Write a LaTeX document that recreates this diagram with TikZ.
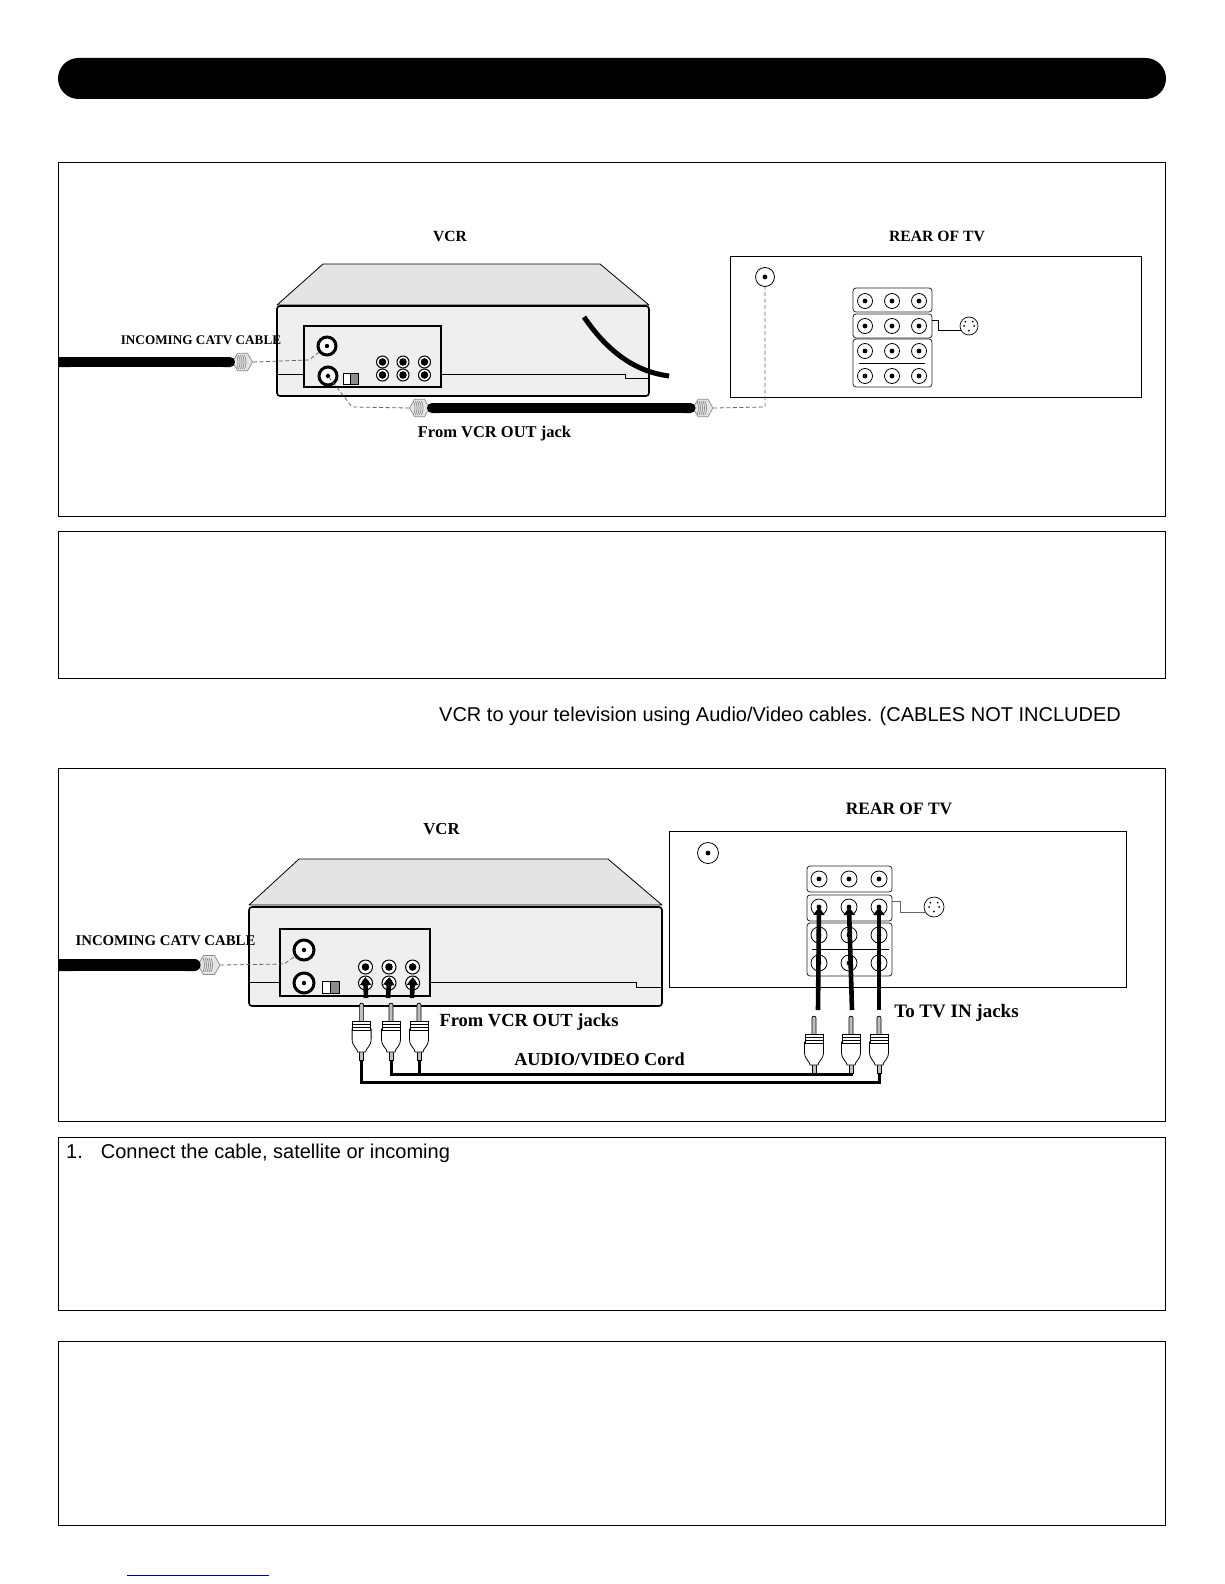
\documentclass[tikz,border=0pt]{standalone}
\usepackage{xcolor}
\usepackage{fontspec}
\setmainfont{Liberation Serif}
\newfontfamily\bodyfont{Liberation Sans}
\usetikzlibrary{arrows.meta,shapes.geometric}
\definecolor{vcrtop}{HTML}{E4E4E4}
\definecolor{vcrbody}{HTML}{EFEFEF}
\definecolor{nutline}{HTML}{8A8A8A}
\definecolor{dashgray}{HTML}{666666}
\definecolor{linkblue}{HTML}{000080}

\begin{document}
\begin{tikzpicture}[
  x=1pt, y=-1pt,
  framebox/.style={draw=black, line width=1, anchor=north west, inner sep=0, outer sep=0},
  lab/.style={font=\fontsize{#1}{18}\selectfont\bfseries, inner sep=0},
  bodytext/.style={font=\bodyfont\fontsize{20}{22}\selectfont, inner sep=0, anchor=west},
  shell/.style={draw=black, line width=0.8, fill=vcrtop, line join=round},
  casing/.style={draw=black, line width=1.6, fill=vcrbody, rounded corners=3},
  panel/.style={draw=black, line width=1.6, fill=vcrbody},
  seam/.style={draw=black, line width=0.7},
  coaxjack/.style={circle, draw=black, line width=3, fill=white, minimum size=#1, inner sep=0,
    path picture={\fill[black] (path picture bounding box.center) circle (2.2);}},
  rcajack/.style={circle, draw=black, line width=1, fill=white, minimum size=#1, inner sep=0,
    path picture={\fill[black] (path picture bounding box.center) circle (3.8);}},
  tvjack/.style={circle, draw=black, line width=0.8, fill=white, minimum size=#1, inner sep=0,
    path picture={\fill[black] (path picture bounding box.center) circle (2.4);}},
  socketgroup/.style={draw=black!85, line width=0.8, rounded corners=3, fill=white, inner sep=0},
  svideo/.style={circle, draw=black, line width=0.7, fill=white, minimum size=#1, inner sep=0,
    path picture={\foreach \px/\py in {-3.7/-4.3,3.7/-4.3,-5/0,5/0,0/4.7}
      \fill[black] ([shift={(\px,\py)}]path picture bounding box.center) circle (1);}},
  nut/.style={regular polygon, regular polygon sides=6, draw=nutline, line width=0.7, fill=black!10,
    minimum size=20, inner sep=0, path picture={
      \foreach \nx in {-6,-4,-2,0,2} \draw[nutline] ([xshift=\nx]path picture bounding box.center) ++(0,-7) .. controls ++(2,4) and ++(2,-4) .. ++(0,14);}},
  cable/.style={line width=#1, draw=black, {Butt Cap}-{Round Cap}, shorten >=-3},
  fullcable/.style={line width=#1, draw=black, {Round Cap}-{Round Cap}, shorten <=-3, shorten >=-3},
  dashlink/.style={draw=dashgray, line width=0.8, dash pattern=on 4pt off 2.5pt},
  thinlink/.style={draw=black, line width=0.7},
  wire/.style={draw=black, line width=3},
  bigarrow/.style={draw=black, line width=4.6, -{Triangle[length=8,width=11]}},
  plug/.pic={
    \draw[line width=0.7, fill=black!25] (-2,19) -- (-2,2) .. controls (-2,-0.5) and (2,-0.5) .. (2,2) -- (2,19) -- cycle;
    \draw[line width=0.7, fill=black!25] (-2,48) rectangle (2,57);
    \draw[line width=0.8, fill=white] (-9.5,26) -- (-9.5,36) .. controls (-9.5,44) and (-4,45) .. (-4,49) -- (4,49) .. controls (4,45) and (9.5,44) .. (9.5,36) -- (9.5,26) -- cycle;
    \draw[line width=0.8, fill=white] (-9,18) rectangle (9,27);
    \fill (-9,20.5) rectangle (9,21.7);
    \fill (-9,23.5) rectangle (9,24.7);
    \coordinate (-tail) at (0,57);
  }
]
\useasboundingbox (0,0) rectangle (1224,1584);

\node[fill=black, rounded corners=20.5, minimum width=1108, minimum height=41, inner sep=0] (titlebar) at (612,78.5) {};
\node[framebox, minimum width=1107, minimum height=354] (frameone) at (58,162) {};
\node[framebox, minimum width=1107, minimum height=147] (frametwo) at (58,531) {};
\node[framebox, minimum width=1107, minimum height=353] (framethree) at (58,768.5) {};
\node[framebox, minimum width=1107, minimum height=173] (framefour) at (58,1137) {};
\node[framebox, minimum width=1107, minimum height=184] (framefive) at (58,1341) {};

\node[bodytext] (waytext) at (439,716) {VCR to your television using Audio/Video cables. (CABLES NOT INCLUDED};
\node[bodytext] (steptext) at (66,1153) {1.\hspace{0.9em}Connect the cable, satellite or incoming};

\draw[shell] (277,305) -- (323,264) -- (600,264) -- (649,305) -- cycle;
\draw[casing] (277,306) rectangle (649,396);
\draw[seam] (277,374) -- (304,374);
\draw[seam] (441,374) -- (625,374) -- (625,378) -- (649,378);
\draw[panel] (304,326) rectangle (441,387);
\node[coaxjack=18] (coaxina) at (327,346) {};
\node[coaxjack=18] (coaxouta) at (328,376) {};
\draw[line width=0.7, fill=white] (343,373) rectangle (350,384);
\draw[line width=0.7, fill=black!45] (350,373) rectangle (358,384);
\foreach \n/\cx in {a/382.5,b/403,c/424.5}
  \foreach \m/\cy in {1/362,2/375}
    \node[rcajack=12] (vja\n\m) at (\cx,\cy) {};

\coordinate (cordtop) at (584,317);
\coordinate (cordend) at (669,376);
\draw[line width=5] (cordtop) .. controls (610,355) and (638,372) .. (cordend);

\node[nut] (nuta) at (242.5,362) {};
\node[nut] (nutb) at (419.5,408) {};
\node[nut] (nutc) at (703,408) {};
\coordinate (cabstarta) at (58,362);
\draw[cable=10] (cabstarta) -- (nuta.west);
\draw[fullcable=10] (nutb.east) -- (nutc.west);
\draw[dashlink] (nuta.east) -- (309,360) -- (coaxina);
\draw[dashlink] (nutb.west) -- (352,407) -- (coaxouta.center);

\node[lab=15.5] (vcrone) at (450,236) {VCR};
\node[lab=15.7] (rearone) at (937,236) {REAR OF TV};
\node[lab=13.2] (incomingone) at (201,340) {INCOMING CATV CABLE};
\node[lab=16.5] (fromone) at (494.5,434) {From VCR OUT jack};

\draw[framebox, fill=white] (730,256) rectangle (1141,397);
\node[tvjack=19] (antone) at (765,277) {};
\draw[dashlink] (nutc.east) -- (765,407) -- (antone);
\node[socketgroup, minimum width=79, minimum height=24] (grpa) at (892.5,300) {};
\node[socketgroup, minimum width=79, minimum height=24] (grpb) at (892.5,326) {};
\node[socketgroup, minimum width=79, minimum height=48] (grpc) at (892.5,363) {};
\draw[seam] (859,363) -- (925,363);
\foreach \n/\cx in {a/865,b/892,c/919}
  \foreach \m/\cy in {1/301,2/326,3/351,4/376}
    \node[tvjack=15] (tja\n\m) at (\cx,\cy) {};
\node[svideo=18] (svida) at (969,326) {};
\draw[thinlink] ([yshift=6]grpb.east) -- ++(6,0) |- (svida.210);

\draw[shell] (249,905) -- (299,859) -- (608,859) -- (662,905) -- cycle;
\draw[casing] (249,907) rectangle (662,1006);
\draw[seam] (249,982) -- (280,982);
\draw[seam] (430,982) -- (636,982) -- (636,987) -- (662,987);
\draw[panel] (280,929) rectangle (430,996);
\node[coaxjack=20] (coaxinb) at (304,950) {};
\node[coaxjack=20] (coaxoutb) at (304,983) {};
\draw[line width=0.7, fill=white] (322.5,981) rectangle (330,993);
\draw[line width=0.7, fill=black!45] (330,981) rectangle (339,993);
\foreach \n/\cx in {a/365.5,b/389,c/412.6}
  \foreach \m/\cy in {1/967,2/983}
    \node[rcajack=14] (vjb\n\m) at (\cx,\cy) {};
\foreach \n/\cx in {a/366,b/388,c/412} {
  \coordinate (vout\n) at (\cx,998);
  \draw[bigarrow, shorten >=-6] (vout\n) -- (vjb\n2.center);
}

\node[nut, minimum size=22] (nutd) at (209,965) {};
\coordinate (cabstartb) at (58,965);
\draw[cable=12] (cabstartb) -- (nutd.west);
\draw[dashlink] (nutd.east) -- (284,964) -- (coaxinb);

\node[lab=16.8] (vcrtwo) at (441.5,829) {VCR};
\node[lab=17.4] (reartwo) at (899,809) {REAR OF TV};
\node[lab=14.8] (incomingtwo) at (165.5,941) {INCOMING CATV CABLE};
\node[lab=18.5] (fromtwo) at (529,1022) {From VCR OUT jacks};
\node[lab=18.2] (cordtext) at (599.5,1059) {AUDIO/VIDEO Cord};
\node[lab=19] (totv) at (956.5,1013) {To TV IN jacks};

\draw[framebox, fill=white] (669,831) rectangle (1126,987);
\node[tvjack=21] (anttwo) at (708,853) {};
\node[socketgroup, minimum width=85, minimum height=26] (grpd) at (849.5,879) {};
\node[socketgroup, minimum width=85, minimum height=26] (grpe) at (849.5,908) {};
\node[socketgroup, minimum width=85, minimum height=53] (grpf) at (849.5,949.5) {};
\draw[seam] (812,949) -- (889,949);
\foreach \n/\cx in {a/819,b/849,c/879}
  \foreach \m/\cy in {1/879,2/907,3/935,4/963}
    \node[tvjack=16] (tjb\n\m) at (\cx,\cy) {};
\node[svideo=20] (svidb) at (934,907) {};
\draw[thinlink, draw=black!60] ([yshift=7]grpe.east) -- ++(8,0) |- (svidb.210);
\foreach \n/\cx in {a/818,b/852,c/879} {
  \coordinate (tvin\n) at (\cx,1010);
  \draw[bigarrow] (tvin\n) -- (tjb\n2.center);
}

\pic (plga) at (361.6,1003) {plug};
\pic (plgb) at (391,1003) {plug};
\pic (plgc) at (419,1003) {plug};
\pic (plgd) at (814,1016) {plug};
\pic (plge) at (851,1016) {plug};
\pic (plgf) at (879,1016) {plug};
\draw[wire] (plga-tail) -- ++(0,22) -| (plgf-tail);
\draw[wire] (plgb-tail) -- ++(0,14) -| (plge-tail);
\draw[wire] (plgc-tail) -- ++(0,14);
\draw[wire] (plgd-tail) -- ++(0,1);

\coordinate (linkstart) at (127,1575);
\coordinate (linkend) at (269,1575);
\draw[draw=linkblue, line width=1] (linkstart) -- (linkend);
\end{tikzpicture}
\end{document}
